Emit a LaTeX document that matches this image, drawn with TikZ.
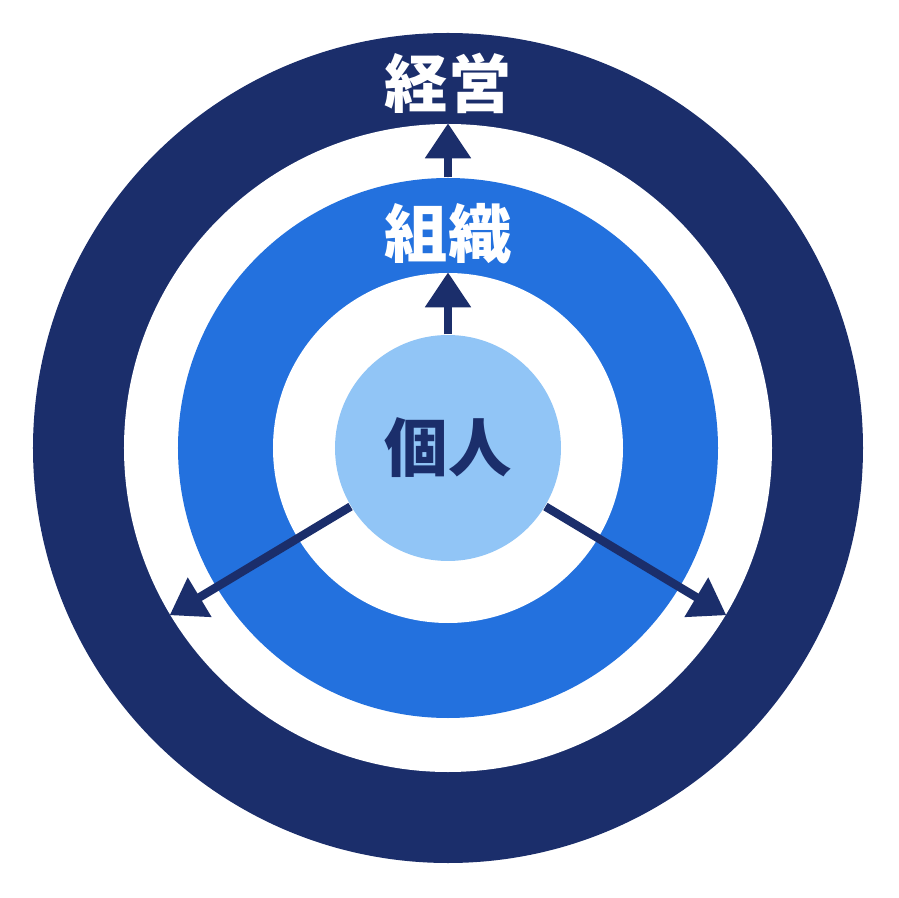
\documentclass[tikz,border=0pt]{standalone}
\usepackage{fontspec}
\newfontfamily\cjk{Noto Sans CJK JP}
\usetikzlibrary{arrows.meta}
\definecolor{navy}{HTML}{1B2E6B}
\definecolor{midblue}{HTML}{2371DE}
\definecolor{paleblue}{HTML}{91C5F6}
\tikzset{
  disc/.style={circle,inner sep=0pt,draw=none},
  lbl/.style={font=\cjk\bfseries\fontsize{18}{18}\selectfont},
  arr/.style={-{Triangle[length=3.5mm,width=4.4mm]},line width=2.4pt,draw=navy}
}

\begin{document}
\begin{tikzpicture}
            \useasboundingbox (-4.48,-4.5) rectangle (4.5,4.48);
            \node[disc,fill=navy,minimum size=8.3cm] (mgmt) at (0,0) {};
            \node[disc,fill=white,minimum size=6.48cm] (mgmtin) at (0,0) {};
            \node[disc,fill=midblue,minimum size=5.4cm] (org) at (0,0) {};
            \node[disc,fill=white,minimum size=3.5cm] (orgin) at (0,0) {};
            \node[disc,fill=paleblue,minimum size=2.26cm] (indiv) at (0,0) {};
            \node[lbl,text=white] (mgmtlbl) at (0,3.65) {経営};
            \node[lbl,text=white] (orglbl) at (0,2.14) {組織};
            \node[lbl,text=navy] (indivlbl) at (0,0) {個人};
            \draw[arr] (indiv.north)--(orgin.north);
            \draw[arr] (org.north)--(mgmtin.north);
            \draw[arr] (indiv.211)--(mgmtin.211);
            \draw[arr] (indiv.-31)--(mgmtin.-31);
        \end{tikzpicture}
\end{document}
